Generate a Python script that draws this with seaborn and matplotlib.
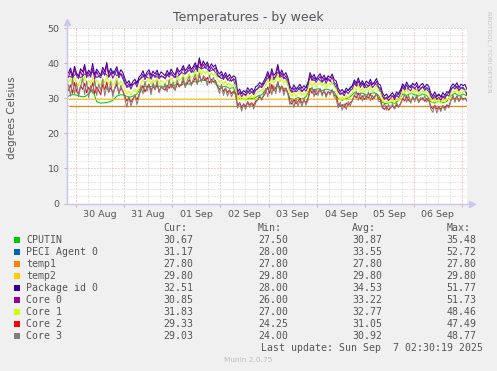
import numpy as np
import pandas as pd
import matplotlib
matplotlib.use("Agg")
import matplotlib.pyplot as plt
from matplotlib.patches import Rectangle
import seaborn as sns

# ---------------- data ----------------
names = ["CPUTIN", "PECI Agent 0", "temp1", "temp2", "Package id 0",
         "Core 0", "Core 1", "Core 2", "Core 3"]
colors = ["#00CC00", "#0066B3", "#FF8000", "#FFCC00", "#330099",
          "#990099", "#CCFF00", "#FF0000", "#808080"]
cur_vals = ["30.67", "31.17", "27.80", "29.80", "32.51", "30.85", "31.83", "29.33", "29.03"]
min_vals = ["27.50", "28.00", "27.80", "29.80", "28.00", "26.00", "27.00", "24.25", "24.00"]
avg_vals = ["30.87", "33.55", "27.80", "29.80", "34.53", "33.22", "32.77", "31.05", "30.92"]
max_vals = ["35.48", "52.72", "27.80", "29.80", "51.77", "51.73", "48.46", "47.49", "48.77"]
day_labels = ["30 Aug", "31 Aug", "01 Sep", "02 Sep", "03 Sep", "04 Sep", "05 Sep", "06 Sep"]

# period shown: hours relative to 30 Aug 00:00 (first sample .. last update 07 Sep 02:30)
t_start, t_end = -3.5, 194.5

cputin = [30.6, 31.0, 30.9, 30.5, 30.4, 31.2, 32.4, 29.0, 28.6, 28.7, 28.9, 29.4, 30.6, 31.0,
          30.8, 30.2, 30.6, 31.2,
          33.0, 33.4, 33.1, 33.6, 33.3, 33.5,
          33.2, 33.8, 33.5, 34.0, 33.7, 34.3, 34.0, 34.8, 34.5, 35.2,
          35.0, 34.6, 34.8,
          33.6, 33.2, 33.4, 32.8, 33.0,
          29.6, 29.9, 29.5, 30.1, 29.8,
          30.6, 31.0,
          32.4, 33.0, 32.6, 33.5, 33.0, 32.7,
          30.0, 29.6, 30.2, 29.7, 30.4,
          32.8, 32.4, 32.7, 32.2, 32.6, 32.3, 31.8,
          29.8, 29.4, 29.9, 30.4,
          31.6, 31.2, 31.5, 30.9, 31.3, 31.6, 30.8,
          28.8, 28.4, 28.9, 28.5, 29.4,
          31.2, 30.8, 31.4, 31.0, 30.6, 31.2, 30.8,
          29.0, 28.6, 29.2, 28.7, 29.1,
          30.8, 31.4, 30.6, 31.2, 30.67]

peci = [36.2, 36.0, 37.1, 35.8, 36.9, 36.3, 37.5, 35.9, 36.6, 37.2, 36.0, 37.8, 36.4, 36.9,
        34.1, 33.2, 33.9, 34.8,
        35.8, 36.4, 35.6, 36.7, 36.0, 36.2,
        35.8, 36.9, 36.4, 36.0, 37.3, 36.9, 38.0, 37.4, 39.2, 38.3,
        38.9, 37.6, 38.2,
        36.4, 35.6, 36.1, 34.9, 35.3,
        30.9, 31.6, 31.0, 32.1, 31.6,
        32.8, 33.5,
        35.0, 36.3, 35.2, 37.4, 36.1, 35.6,
        32.3, 31.8, 32.9, 31.9, 33.2,
        36.1, 35.0, 35.6, 34.5, 35.8, 34.8, 34.0,
        31.8, 31.2, 32.0, 32.6,
        34.6, 33.5, 34.3, 33.0, 33.8, 34.4, 33.1,
        30.5, 29.8, 30.8, 30.2, 31.4,
        33.4, 32.4, 33.7, 32.7, 32.1, 33.2, 32.6,
        30.7, 30.0, 31.0, 30.1, 30.9,
        32.7, 33.4, 32.4, 33.2, 31.17]

temp1 = [27.80, 27.80]
temp2 = [29.80, 29.80]

package = [37.2, 38.6, 36.4, 39.1, 37.0, 36.3, 38.4, 37.5, 39.6, 36.8, 38.0, 37.1, 39.9, 36.6,
           38.3, 37.4, 36.5, 38.8, 37.6, 40.2, 37.0, 38.5, 36.9, 37.8, 39.0, 36.7, 38.1, 37.3,
           35.6, 34.2, 35.0, 33.6, 34.8, 35.4, 34.1, 36.0,
           36.6, 37.8, 36.2, 37.4, 38.1, 36.5, 37.7, 36.9, 38.0, 36.4, 37.5, 37.0,
           36.4, 37.9, 36.8, 38.3, 37.2, 36.6, 38.7, 37.5, 38.1, 39.3,
           37.8, 38.6, 39.6, 38.2, 39.0, 40.1, 38.5, 41.5, 39.2, 40.6,
           39.4, 40.3, 38.6, 39.8, 38.9, 39.5,
           37.8, 36.9, 37.6, 36.2, 37.3, 36.0, 36.8, 35.7, 36.4, 35.9,
           31.8, 32.6, 31.3, 32.2, 31.6, 33.0, 32.1, 32.8, 31.9, 33.3,
           33.6, 34.5, 33.9, 34.8,
           36.0, 37.6, 35.8, 38.4, 36.5, 37.2, 39.6, 36.8, 38.0, 36.4, 37.3, 35.9,
           33.4, 32.5, 33.8, 32.7, 33.2, 34.0, 32.8, 33.6, 32.9, 34.2,
           37.3, 35.9, 36.8, 35.4, 36.2, 37.0, 35.6, 36.6, 35.1, 36.4, 35.8, 36.9, 35.3, 34.9,
           32.8, 31.9, 32.5, 31.6, 32.9, 32.2, 33.1, 33.5,
           35.2, 34.3, 35.8, 34.0, 35.0, 33.8, 34.9, 34.2, 35.4, 33.9, 34.6, 35.6, 34.1, 33.7,
           31.5, 30.6, 31.2, 30.2, 30.9, 31.6, 30.5, 31.8, 31.1, 32.3,
           34.1, 33.2, 34.6, 33.5, 33.0, 34.3, 33.6, 34.5, 32.9, 33.8, 34.2, 33.1, 34.0, 33.4,
           31.4, 30.7, 31.8, 30.5, 31.2, 30.3, 31.6, 30.8, 31.9, 31.5,
           33.2, 34.1, 33.5, 34.4, 33.0, 34.0, 33.6, 33.9, 32.51]

core0 = [36.0, 37.8, 35.5, 38.2, 36.4, 35.6, 37.6, 36.2, 38.8, 35.9, 37.3, 36.0, 38.5, 35.4,
         37.6, 36.3, 35.8, 37.9, 36.5, 39.4, 36.1, 37.4, 35.7, 36.9, 38.2, 35.8, 37.0, 36.4,
         34.6, 33.0, 34.2, 32.6, 33.9, 34.5, 33.2, 35.1,
         35.6, 36.9, 35.3, 36.6, 37.3, 35.4, 36.8, 35.9, 37.2, 35.5, 36.4, 36.2,
         35.5, 37.0, 36.0, 37.4, 36.3, 35.8, 37.9, 36.6, 37.3, 38.6,
         36.9, 37.8, 38.9, 37.3, 38.3, 39.4, 37.6, 40.8, 38.4, 39.7,
         38.5, 39.6, 37.7, 38.9, 38.0, 38.7,
         36.9, 36.0, 36.8, 35.3, 36.5, 35.1, 35.9, 34.8, 35.6, 35.0,
         30.9, 31.8, 30.4, 31.3, 30.7, 32.1, 31.2, 31.9, 31.0, 32.4,
         32.7, 33.6, 33.0, 33.9,
         35.1, 36.8, 34.9, 37.5, 35.6, 36.3, 38.9, 35.9, 37.2, 35.5, 36.4, 35.0,
         32.5, 31.6, 32.9, 31.8, 32.3, 33.2, 31.9, 32.7, 32.0, 33.3,
         36.5, 35.0, 36.0, 34.5, 35.4, 36.2, 34.7, 35.8, 34.2, 35.6, 34.9, 36.1, 34.4, 34.0,
         31.9, 31.0, 31.6, 30.7, 32.0, 31.3, 32.2, 32.6,
         34.3, 33.4, 35.0, 33.1, 34.1, 32.9, 34.0, 33.3, 34.6, 33.0, 33.7, 34.8, 33.2, 32.8,
         30.6, 29.7, 30.3, 29.3, 30.0, 30.7, 29.6, 30.9, 30.2, 31.4,
         33.2, 32.3, 33.8, 32.6, 32.1, 33.4, 32.7, 33.6, 32.0, 32.9, 33.3, 32.2, 33.1, 32.5,
         30.5, 29.8, 30.9, 29.6, 30.3, 29.4, 30.7, 29.9, 31.0, 30.6,
         32.3, 33.2, 32.6, 33.5, 32.1, 33.1, 32.7, 32.4, 30.85]

core1 = [34.5, 35.6, 33.8, 36.0, 34.2, 33.6, 35.4, 34.6, 36.3, 33.9, 35.0, 34.1, 35.9, 33.5,
         35.2, 34.4, 33.7, 35.5, 34.3, 36.4, 34.0, 35.1, 33.6, 34.7, 35.8, 33.9, 34.9, 34.2,
         32.4, 31.2, 32.0, 30.9, 31.8, 32.6, 31.5, 33.0,
         34.1, 35.4, 33.8, 35.0, 35.8, 34.0, 35.3, 34.5, 35.7, 34.2, 35.1, 34.6,
         34.0, 35.3, 34.5, 35.8, 34.8, 34.3, 36.1, 35.0, 35.6, 36.8,
         35.3, 36.0, 37.1, 35.7, 36.5, 37.6, 36.0, 38.4, 36.7, 37.8,
         36.9, 37.8, 36.2, 37.3, 36.5, 37.1,
         35.3, 34.5, 35.2, 33.9, 34.9, 33.7, 34.4, 33.4, 34.1, 33.6,
         29.8, 30.7, 29.4, 30.3, 29.7, 31.0, 30.2, 30.8, 30.0, 31.3,
         31.6, 32.5, 31.9, 32.8,
         33.8, 35.3, 33.6, 36.0, 34.3, 35.0, 36.9, 34.6, 35.7, 34.2, 35.1, 33.8,
         31.3, 30.5, 31.7, 30.6, 31.2, 32.0, 30.8, 31.5, 30.9, 32.1,
         34.9, 33.6, 34.5, 33.2, 34.0, 34.7, 33.4, 34.3, 33.0, 34.1, 33.6, 34.6, 33.1, 32.7,
         30.6, 29.8, 30.4, 29.6, 30.8, 30.2, 31.0, 31.4,
         33.1, 32.3, 33.7, 32.0, 32.9, 31.8, 32.8, 32.2, 33.4, 31.9, 32.6, 33.5, 32.1, 31.7,
         29.5, 28.7, 29.2, 28.4, 29.0, 29.6, 28.6, 29.8, 29.1, 30.2,
         32.1, 31.3, 32.6, 31.5, 31.0, 32.3, 31.6, 32.5, 31.0, 31.8, 32.2, 31.2, 32.0, 31.5,
         29.4, 28.8, 29.8, 28.6, 29.3, 28.5, 29.6, 28.9, 29.9, 29.6,
         31.3, 32.2, 31.6, 32.5, 31.1, 32.0, 31.7, 32.2, 31.83]

core2 = [32.3, 33.8, 31.4, 34.5, 32.0, 31.2, 33.6, 32.5, 34.2, 31.6, 33.1, 32.0, 34.4, 31.3,
         33.2, 32.2, 31.0, 33.9, 32.4, 34.6, 31.8, 33.0, 31.5, 32.7, 34.0, 31.4, 32.8, 32.1,
         30.5, 29.2, 30.1, 28.9, 29.8, 30.7, 29.5, 31.0,
         32.2, 33.6, 31.8, 33.1, 34.0, 32.1, 33.4, 32.5, 33.9, 32.0, 33.2, 32.7,
         32.3, 33.6, 32.8, 34.0, 33.0, 32.4, 34.3, 33.2, 33.8, 35.0,
         33.5, 34.2, 35.3, 33.9, 34.7, 35.8, 34.2, 36.5, 34.9, 35.9,
         35.0, 35.9, 34.3, 35.4, 34.6, 35.1,
         33.4, 32.5, 33.2, 31.9, 32.9, 31.6, 32.4, 31.3, 32.0, 31.5,
         27.8, 28.8, 27.3, 28.4, 27.6, 29.0, 28.1, 28.7, 27.9, 29.2,
         29.5, 30.4, 29.8, 30.7,
         31.6, 33.2, 31.4, 33.9, 32.1, 32.8, 34.6, 32.3, 33.5, 31.9, 32.9, 31.5,
         29.1, 28.3, 29.6, 28.4, 29.0, 29.9, 28.6, 29.3, 28.7, 30.0,
         32.7, 31.4, 32.3, 31.0, 31.8, 32.5, 31.2, 32.1, 30.8, 31.9, 31.4, 32.4, 30.9, 30.5,
         28.4, 27.6, 28.2, 27.4, 28.6, 28.0, 28.8, 29.2,
         30.9, 30.1, 31.5, 29.8, 30.7, 29.6, 30.6, 30.0, 31.2, 29.7, 30.4, 31.3, 29.9, 29.5,
         27.4, 26.8, 27.7, 26.6, 27.3, 27.9, 27.0, 28.1, 27.5, 28.4,
         30.0, 29.2, 30.5, 29.4, 28.9, 30.2, 29.5, 30.4, 28.9, 29.7, 30.1, 29.1, 29.9, 29.4,
         27.6, 27.0, 28.0, 26.9, 27.5, 26.8, 27.8, 27.2, 28.1, 27.7,
         29.4, 30.3, 29.7, 30.6, 29.2, 30.1, 29.8, 30.0, 29.33]

core3 = [33.8, 30.6, 35.6, 31.2, 34.4, 30.4, 33.2, 35.8, 31.0, 34.9, 30.2, 33.6, 31.4, 35.2,
         30.8, 34.0, 32.2, 35.5, 30.6, 33.4, 31.6, 34.7, 30.3, 33.0, 35.0, 31.1, 33.7, 32.0,
         29.8, 27.4, 30.6, 27.8, 29.4, 31.0, 28.2, 30.4,
         33.6, 31.2, 34.8, 32.0, 33.9, 31.0, 34.4, 32.4, 35.0, 31.5, 33.2, 32.6,
         34.2, 31.8, 35.3, 32.9, 34.6, 32.2, 35.2, 33.4, 34.0, 36.0,
         33.0, 35.1, 36.3, 33.5, 35.4, 36.8, 33.9, 37.2, 34.6, 36.4,
         35.8, 33.6, 36.6, 34.2, 35.9, 34.5,
         33.2, 31.4, 33.9, 30.8, 32.8, 30.6, 32.2, 30.4, 31.8, 30.9,
         27.2, 28.8, 26.3, 28.4, 26.8, 28.9, 27.4, 28.6, 26.9, 28.7,
         29.6, 30.9, 29.4, 31.2,
         32.8, 30.4, 34.2, 31.0, 33.6, 31.3, 34.8, 31.6, 33.4, 30.8, 32.9, 31.1,
         28.2, 29.6, 27.4, 29.8, 27.8, 29.3, 27.6, 29.9, 28.0, 29.4,
         31.8, 33.2, 30.4, 32.6, 30.8, 32.9, 30.6, 32.3, 30.2, 31.9, 30.9, 32.4, 30.3, 29.8,
         27.2, 28.9, 26.6, 28.4, 26.8, 29.0, 27.9, 29.3,
         30.6, 32.0, 29.4, 31.5, 29.2, 31.2, 29.6, 31.8, 29.3, 30.8, 29.9, 31.4, 29.2, 28.9,
         27.0, 28.6, 26.6, 28.2, 27.0, 28.4, 26.9, 28.8, 27.4, 28.6,
         29.6, 31.2, 28.8, 30.8, 28.6, 30.6, 29.0, 31.0, 28.7, 30.2, 29.4, 30.7, 28.9, 30.0,
         27.0, 26.0, 27.9, 25.8, 27.4, 26.2, 28.0, 26.5, 27.8, 27.2,
         29.4, 31.0, 28.8, 30.6, 29.0, 30.8, 29.4, 30.1, 29.03]

series_values = [cputin, peci, temp1, temp2, package, core0, core1, core2, core3]

# ---------------- long-form table ----------------
frames = []
for name, vals in zip(names, series_values):
    t = np.linspace(t_start, t_end, len(vals))   # samples evenly spaced over the week
    frames.append(pd.DataFrame({"sensor": name, "hours": t, "temp": vals}))
df = pd.concat(frames, ignore_index=True)

# ---------------- figure ----------------
W, H = 497, 371
BG = "#F0F0F0"
TXT = "#555555"
fig = plt.figure(figsize=(W / 100, H / 100), dpi=100)
fig.patch.set_facecolor(BG)

L, R, T, B = 66.5, 467.0, 28.0, 203.5
ax = fig.add_axes([L / W, (H - B) / H, (R - L) / W, (B - T) / H])
ax.set_facecolor("white")
ax.set_xlim(-4.5, 194.5)
ax.set_ylim(0, 50)

# grid (munin style dotted)
minor_c = "#CFCFCF"
major_c = "#E9A3A3"
dots = (0, (1, 2))
for y in range(2, 50, 2):
    if y % 10:
        ax.axhline(y, color=minor_c, lw=0.72, ls=dots, zorder=0)
for xh in range(0, 195, 6):
    if xh % 24:
        ax.axvline(xh, color=minor_c, lw=0.72, ls=dots, zorder=0)
for y in range(10, 51, 10):
    ax.axhline(y, color=major_c, lw=0.72, ls=dots, zorder=0.5)
for xh in range(0, 193, 24):
    ax.axvline(xh, color=major_c, lw=0.72, ls=dots, zorder=0.5)

sns.lineplot(data=df, x="hours", y="temp", hue="sensor", hue_order=names,
             palette=colors, linewidth=0.75, legend=False, estimator=None,
             sort=False, ax=ax, zorder=3)

# axes styling
for s in ["top", "right"]:
    ax.spines[s].set_visible(False)
for s in ["left", "bottom"]:
    ax.spines[s].set_color("#C8C8EE")
    ax.spines[s].set_linewidth(0.9)
ax.plot([0, 0], [0, 1.03], transform=ax.transAxes, color="#C8C8EE", lw=0.9, clip_on=False)
ax.plot([0, 1.012], [0, 0], transform=ax.transAxes, color="#C8C8EE", lw=0.9, clip_on=False)
ax.plot([0], [1.035], marker="^", ms=4, color="#C8C8EE", transform=ax.transAxes, clip_on=False)
ax.plot([1.012], [0], marker=">", ms=4, color="#C8C8EE", transform=ax.transAxes, clip_on=False)

ax.set_yticks(range(0, 51, 10))
ax.set_yticklabels([str(v) for v in range(0, 51, 10)])
ax.set_xticks(range(0, 193, 24))
ax.set_xticklabels([""] * 9)
ax.set_xticks([12 + 24 * k for k in range(8)], minor=True)
ax.set_xticklabels(day_labels, minor=True)
ax.tick_params(axis="both", which="major", length=2.5, width=0.7, color=major_c,
               labelsize=6.8, labelcolor=TXT, pad=2.5)
ax.tick_params(axis="x", which="minor", length=0, labelsize=6.8, labelcolor=TXT, pad=4.5)
ax.set_xlabel("")
ax.set_ylabel("degrees Celsius", fontsize=7.5, color=TXT)
ax.yaxis.label.set_verticalalignment("center")
ax.yaxis.set_label_coords(-(L - 12) / (R - L), 0.49)

# title and side text
fig.text(248 / W, 1 - 18 / H, "Temperatures - by week", ha="center", va="center",
         fontsize=9, color=TXT)
fig.text(489 / W, 1 - 52 / H, "RRDTOOL / TOBI OETIKER", ha="center", va="center",
         rotation=-90, fontsize=4.6, color="#C4C4C4")

# legend table
mono = "DejaVu Sans Mono"
FS = 7.1
col_x = [163, 258, 352.3, 446.7]
def fy(py):
    return 1 - py / H
for cx, hdr in zip(col_x, ["Cur:", "Min:", "Avg:", "Max:"]):
    fig.text(cx / W, fy(228), hdr, family=mono, fontsize=FS, color=TXT, va="center")
for i, name in enumerate(names):
    py = 239.7 + 12 * i
    fig.add_artist(Rectangle((14 / W, fy(py + 3)), 6 / W, 6 / H, transform=fig.transFigure,
                             facecolor=colors[i], edgecolor="none"))
    fig.text(26 / W, fy(py), name, family=mono, fontsize=FS, color=TXT, va="center")
    for cx, vals in zip(col_x, [cur_vals, min_vals, avg_vals, max_vals]):
        fig.text(cx / W, fy(py), vals[i], family=mono, fontsize=FS, color=TXT, va="center")
fig.text(483 / W, fy(347.7), "Last update: Sun Sep  7 02:30:19 2025", family=mono,
         fontsize=FS, color=TXT, va="center", ha="right")
fig.text(248 / W, fy(360), "Munin 2.0.75", ha="center", va="center", fontsize=5.3,
         color="#BDBDBD")

fig.savefig("out.png", dpi=100, facecolor=BG)
